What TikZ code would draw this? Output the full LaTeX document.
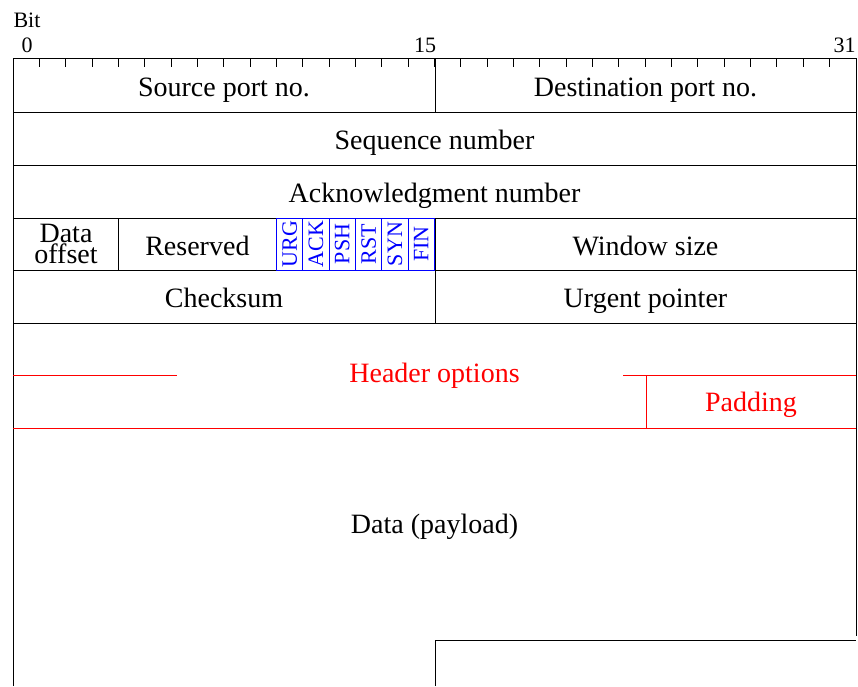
\documentclass[tikz,border=0pt]{standalone}
\usepackage{fontspec}
\setmainfont{Liberation Serif}
\usepackage{tikz}

\begin{document}
\begin{tikzpicture}[x=1pt, y=-1pt, line width=1pt,
    field/.style={font=\fontsize{28}{20}\selectfont, inner sep=0pt, anchor=base},
    flag/.style={font=\fontsize{22}{22}\selectfont, text=blue, rotate=90, inner sep=0pt},
    ruler/.style={font=\fontsize{22}{22}\selectfont, inner sep=0pt},
    opt/.style={font=\fontsize{28}{30}\selectfont, text=red, inner sep=0pt, anchor=base}]
    \useasboundingbox (0,0) rectangle (858,686);

    % ruler
    \node[ruler, anchor=base west] (bit) at (13,27) {Bit};
    \node[ruler, anchor=base] (b0) at (27,52) {0};
    \node[ruler, anchor=base] (b15) at (425,52) {15};
    \node[ruler, anchor=base east] (b31) at (856,52) {31};
    \foreach \k in {1,...,31}
        \draw (13+\k*26.34, 58) -- ++(0,9);

    % frame and rows
    \draw (13,686) -- (13,58) -- (856,58) -- (856,636);
    \foreach \y in {112,165,218,270,323}
        \draw (13,\y) -- (856,\y);
    \draw (435,58) -- (435,112);
    \draw (118.4,218) -- (118.4,270);
    \draw (435,218) -- (435,323);
    \draw (435,686) -- (435,640) -- (856,640);

    % flags
    \foreach \f [count=\i from 10] in {URG,ACK,PSH,RST,SYN,FIN} {
        \draw[blue] (13+\i*26.34,218) rectangle ++(26.34,52);
        \node[flag] (\f) at (13+\i*26.34+13.17,244) {\f};
    }

    % options
    \draw[red] (13,375) -- (177,375);
    \draw[red] (623,375) -- (856,375);
    \draw[red] (646,375) -- (646,428);
    \draw[red] (13,428) -- (856,428);

    \node[field] (src) at (224,96) {Source port no.};
    \node[field] (dst) at (645.5,96) {Destination port no.};
    \node[field] (seq) at (434.5,149) {Sequence number};
    \node[field] (ack) at (434.5,202) {Acknowledgment number};
    \node[field] (off1) at (66,242) {Data};
    \node[field] (off2) at (66,263) {offset};
    \node[field] (res) at (197.4,255) {Reserved};
    \node[field] (win) at (645.5,255) {Window size};
    \node[field] (chk) at (224,307) {Checksum};
    \node[field] (urg) at (645.5,307) {Urgent pointer};
    \node[opt] (hdr) at (434.5,382) {Header options};
    \node[opt] (pad) at (751,411) {Padding};
    \node[field] (data) at (434.5,533) {Data (payload)};
\end{tikzpicture}
\end{document}
